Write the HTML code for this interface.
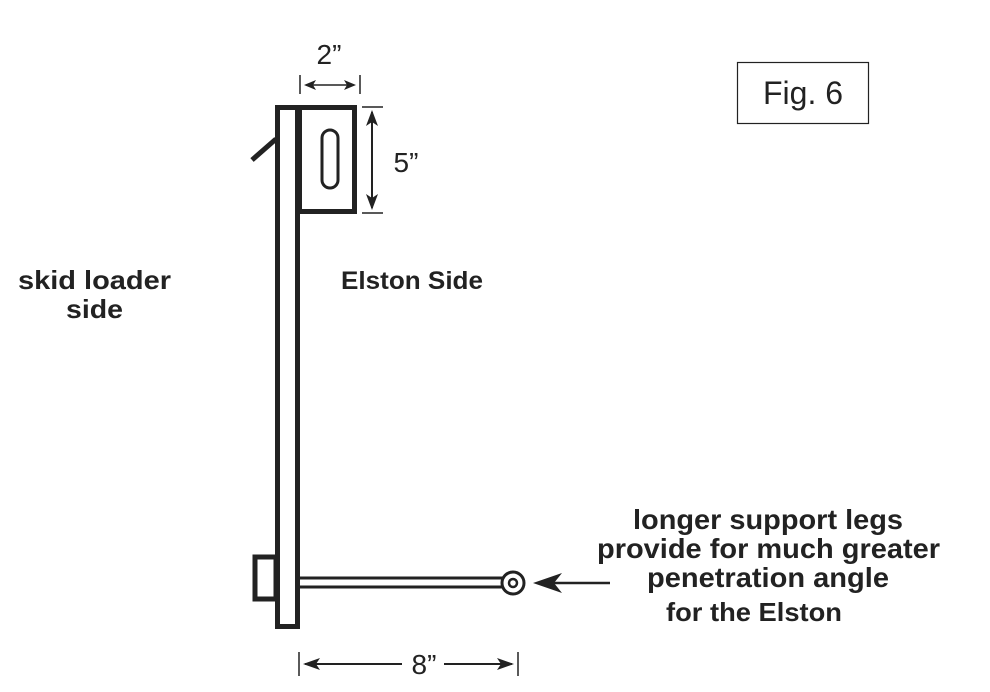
<!DOCTYPE html>
<html><head><meta charset="utf-8"><style>
html,body{margin:0;padding:0;background:#fff;}
svg{display:block;}
.b{font-family:"Liberation Sans",sans-serif;font-weight:bold;fill:#222;}
.n{font-family:"Liberation Sans",sans-serif;fill:#222;}
</style></head><body>
<svg width="990" height="692" viewBox="0 0 990 692" xmlns="http://www.w3.org/2000/svg">
<rect width="990" height="692" fill="#fff"/>
<g stroke="#222" fill="none">
<rect x="277.5" y="107.5" width="20" height="519" stroke-width="5"/>
<rect x="299.5" y="107.5" width="55" height="104" stroke-width="5"/>
<rect x="322" y="130" width="16" height="58" rx="8" stroke-width="3"/>
<line x1="252" y1="160" x2="276" y2="139" stroke-width="5"/>
<rect x="255" y="557" width="21" height="42" stroke-width="5"/>
<line x1="299" y1="578" x2="504" y2="578" stroke-width="3"/>
<line x1="299" y1="587" x2="504" y2="587" stroke-width="3"/>
<circle cx="513" cy="583" r="11" stroke-width="3" fill="#fff"/>
<circle cx="513" cy="583" r="4" stroke-width="2.5"/>
<line x1="300" y1="75" x2="300" y2="94" stroke-width="1.5"/>
<line x1="360" y1="75" x2="360" y2="94" stroke-width="1.5"/>
<line x1="306" y1="85" x2="354" y2="85" stroke-width="1.5"/>
<line x1="362" y1="107" x2="383" y2="107" stroke-width="1.5"/>
<line x1="362" y1="213" x2="383" y2="213" stroke-width="1.5"/>
<line x1="372" y1="112" x2="372" y2="208" stroke-width="2"/>
<line x1="299" y1="652" x2="299" y2="676" stroke-width="1.5"/>
<line x1="518" y1="652" x2="518" y2="676" stroke-width="1.5"/>
<line x1="305" y1="664" x2="402" y2="664" stroke-width="2"/>
<line x1="444" y1="664" x2="512" y2="664" stroke-width="2"/>
<line x1="545" y1="583" x2="610" y2="583" stroke-width="2.5"/>
</g>
<g fill="#222">
<polygon points="304,85 316,80 313,85 316,90"/>
<polygon points="356,85 344,80 347,85 344,90"/>
<polygon points="372,110 366,126 372,122 378,126"/>
<polygon points="372,210 366,194 372,198 378,194"/>
<polygon points="303,664 320,658 316,664 320,670"/>
<polygon points="514,664 497,658 501,664 497,670"/>
<polygon points="533,583 562,573 554,583 562,593"/>
</g>
<rect x="737.5" y="62.5" width="131" height="61" fill="none" stroke="#222" stroke-width="1.2"/>
<text x="803" y="104" text-anchor="middle" class="n" font-size="32">Fig. 6</text>
<text x="329" y="64" text-anchor="middle" class="n" font-size="28">2”</text>
<text x="406" y="172" text-anchor="middle" class="n" font-size="28">5”</text>
<text x="424" y="674" text-anchor="middle" class="n" font-size="28">8”</text>
<text x="18" y="289" class="b" font-size="26" textLength="153" lengthAdjust="spacingAndGlyphs">skid loader</text>
<text x="66" y="318" class="b" font-size="26" textLength="57" lengthAdjust="spacingAndGlyphs">side</text>
<text x="341" y="289" class="b" font-size="25" textLength="142" lengthAdjust="spacingAndGlyphs">Elston Side</text>
<text x="633" y="529" class="b" font-size="28" textLength="270" lengthAdjust="spacingAndGlyphs">longer support legs</text>
<text x="597" y="558" class="b" font-size="28" textLength="343" lengthAdjust="spacingAndGlyphs">provide for much greater</text>
<text x="647" y="587" class="b" font-size="28" textLength="242" lengthAdjust="spacingAndGlyphs">penetration angle</text>
<text x="666" y="621" class="b" font-size="26" textLength="176" lengthAdjust="spacingAndGlyphs">for the Elston</text>
</svg>
</body></html>
